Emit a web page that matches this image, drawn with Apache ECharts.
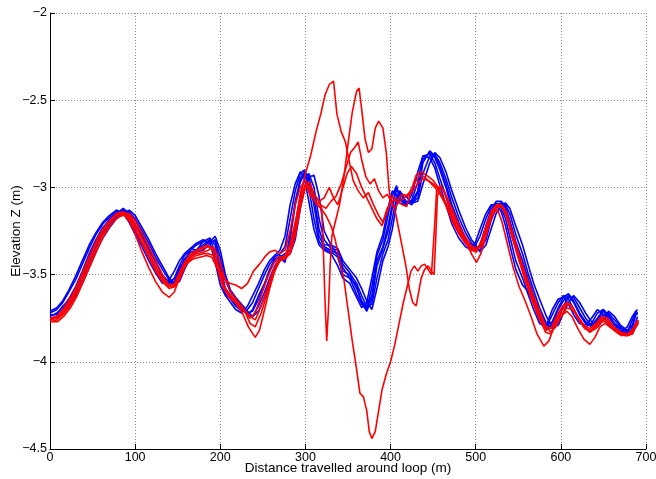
<!DOCTYPE html>
<html>
<head>
<meta charset="utf-8">
<script src="https://cdn.jsdelivr.net/npm/echarts@6/dist/echarts.min.js"></script>
<style>html,body{margin:0;padding:0;background:#fff}#c{width:656px;height:479px}</style>
</head>
<body>
<div id="c"></div>
<script>
// Distance samples (m) shared by the blue runs
const BX = [0,8,15,22,30,38,46,54,62,70,
  78,86,93,100,108,116,124,132,140,146,
  152,158,165,172,180,188,194,200,206,212,
  218,225,232,238,245,252,258,264,270,276,
  282,288,294,299,304,310,316,322,330,338,
  344,352,360,366,372,378,384,391,397,402,
  407,411,418,425,432,438,446,452,458,465,
  472,480,488,495,500,505,512,518,524,530,
  535,540,547,555,562,568,575,583,590,597,
  603,609,615,622,629,636,643,650,656,663,
  670,678,684,688,690];

// Blue runs: elevation Z (m)
const blue1 = [-3.74,-3.72,-3.69,-3.64,-3.57,-3.48,-3.38,-3.30,-3.23,-3.19,
  -3.16,-3.13,-3.16,-3.21,-3.28,-3.35,-3.43,-3.50,-3.55,-3.55,
  -3.48,-3.41,-3.37,-3.36,-3.33,-3.30,-3.33,-3.48,-3.60,-3.63,
  -3.66,-3.70,-3.72,-3.71,-3.64,-3.56,-3.48,-3.42,-3.39,-3.42,
  -3.30,-3.10,-2.97,-2.92,-2.96,-3.10,-3.28,-3.34,-3.36,-3.38,
  -3.48,-3.50,-3.58,-3.65,-3.69,-3.62,-3.42,-3.34,-3.22,-3.10,
  -3.00,-3.06,-3.09,-3.08,-3.02,-2.84,-2.80,-2.83,-2.90,-3.00,
  -3.12,-3.22,-3.30,-3.33,-3.35,-3.34,-3.24,-3.14,-3.10,-3.09,
  -3.12,-3.20,-3.33,-3.44,-3.55,-3.64,-3.74,-3.81,-3.78,-3.70,
  -3.65,-3.62,-3.66,-3.73,-3.78,-3.80,-3.76,-3.71,-3.74,-3.79,
  -3.82,-3.84,-3.80,-3.73,-3.72];
const blue2 = [-3.76,-3.74,-3.71,-3.67,-3.61,-3.52,-3.43,-3.34,-3.26,-3.21,
  -3.17,-3.14,-3.14,-3.18,-3.25,-3.32,-3.40,-3.47,-3.53,-3.56,
  -3.52,-3.45,-3.39,-3.37,-3.36,-3.32,-3.30,-3.40,-3.53,-3.60,
  -3.64,-3.68,-3.73,-3.74,-3.68,-3.60,-3.52,-3.45,-3.40,-3.38,
  -3.36,-3.22,-3.04,-2.95,-2.92,-3.00,-3.18,-3.30,-3.35,-3.36,
  -3.44,-3.49,-3.55,-3.62,-3.68,-3.67,-3.52,-3.38,-3.30,-3.18,
  -3.06,-3.02,-3.08,-3.09,-3.06,-2.92,-2.82,-2.81,-2.86,-2.95,
  -3.06,-3.17,-3.26,-3.32,-3.34,-3.36,-3.30,-3.19,-3.12,-3.09,
  -3.10,-3.15,-3.27,-3.38,-3.50,-3.59,-3.69,-3.78,-3.81,-3.75,
  -3.68,-3.63,-3.63,-3.69,-3.75,-3.79,-3.78,-3.73,-3.72,-3.76,
  -3.80,-3.83,-3.82,-3.77,-3.74];
const blue3 = [-3.72,-3.70,-3.66,-3.60,-3.53,-3.44,-3.35,-3.27,-3.21,-3.17,
  -3.14,-3.14,-3.19,-3.25,-3.32,-3.39,-3.47,-3.53,-3.55,-3.52,
  -3.45,-3.39,-3.36,-3.33,-3.31,-3.29,-3.38,-3.52,-3.61,-3.64,
  -3.68,-3.71,-3.70,-3.66,-3.58,-3.50,-3.44,-3.40,-3.38,-3.34,
  -3.18,-3.02,-2.92,-2.90,-3.00,-3.18,-3.31,-3.35,-3.37,-3.40,
  -3.50,-3.52,-3.61,-3.67,-3.70,-3.57,-3.39,-3.30,-3.16,-3.05,
  -2.99,-3.07,-3.10,-3.07,-2.97,-2.82,-2.81,-2.86,-2.95,-3.05,
  -3.17,-3.26,-3.32,-3.35,-3.33,-3.28,-3.18,-3.11,-3.09,-3.12,
  -3.18,-3.28,-3.42,-3.52,-3.62,-3.70,-3.78,-3.80,-3.73,-3.66,
  -3.62,-3.64,-3.70,-3.76,-3.80,-3.78,-3.72,-3.70,-3.76,-3.81,
  -3.83,-3.83,-3.76,-3.72,-3.73];
const blue4 = [-3.73,-3.73,-3.68,-3.65,-3.58,-3.50,-3.39,-3.31,-3.24,-3.18,
  -3.15,-3.12,-3.15,-3.22,-3.27,-3.36,-3.42,-3.51,-3.54,-3.54,
  -3.46,-3.43,-3.35,-3.36,-3.31,-3.31,-3.31,-3.45,-3.58,-3.62,
  -3.67,-3.69,-3.73,-3.70,-3.62,-3.55,-3.47,-3.41,-3.40,-3.43,
  -3.27,-3.08,-2.95,-2.91,-2.94,-3.06,-3.24,-3.33,-3.33,-3.39,
  -3.46,-3.52,-3.56,-3.66,-3.71,-3.64,-3.45,-3.35,-3.25,-3.12,
  -3.01,-3.04,-3.08,-3.10,-3.03,-2.86,-2.79,-2.82,-2.88,-2.98,
  -3.10,-3.20,-3.29,-3.34,-3.36,-3.33,-3.22,-3.13,-3.08,-3.08,
  -3.11,-3.19,-3.31,-3.42,-3.53,-3.62,-3.72,-3.79,-3.77,-3.69,
  -3.63,-3.61,-3.65,-3.72,-3.77,-3.79,-3.75,-3.70,-3.73,-3.78,
  -3.81,-3.82,-3.79,-3.71,-3.70];
const blue5 = [-3.75,-3.75,-3.72,-3.68,-3.63,-3.55,-3.46,-3.37,-3.29,-3.23,
  -3.18,-3.15,-3.13,-3.16,-3.23,-3.30,-3.38,-3.45,-3.52,-3.55,
  -3.54,-3.47,-3.40,-3.36,-3.34,-3.31,-3.28,-3.36,-3.50,-3.59,
  -3.63,-3.67,-3.71,-3.74,-3.71,-3.63,-3.55,-3.47,-3.42,-3.39,
  -3.38,-3.30,-3.12,-3.00,-2.94,-2.93,-3.05,-3.25,-3.33,-3.35,
  -3.42,-3.47,-3.52,-3.58,-3.65,-3.70,-3.58,-3.42,-3.34,-3.24,
  -3.10,-3.03,-3.05,-3.09,-3.08,-2.98,-2.86,-2.80,-2.83,-2.91,
  -3.02,-3.13,-3.23,-3.30,-3.33,-3.37,-3.33,-3.24,-3.15,-3.10,
  -3.09,-3.12,-3.22,-3.33,-3.45,-3.55,-3.64,-3.74,-3.80,-3.79,
  -3.72,-3.66,-3.62,-3.66,-3.72,-3.77,-3.80,-3.76,-3.71,-3.74,
  -3.79,-3.82,-3.84,-3.80,-3.76];
const blue6 = [-3.71,-3.69,-3.65,-3.59,-3.51,-3.42,-3.33,-3.26,-3.20,-3.16,
  -3.13,-3.15,-3.20,-3.27,-3.34,-3.42,-3.49,-3.55,-3.53,-3.48,
  -3.42,-3.38,-3.35,-3.32,-3.30,-3.32,-3.43,-3.56,-3.62,-3.66,
  -3.70,-3.72,-3.68,-3.62,-3.55,-3.47,-3.42,-3.39,-3.36,-3.28,
  -3.10,-2.98,-2.91,-2.95,-3.08,-3.24,-3.33,-3.36,-3.38,-3.45,
  -3.52,-3.55,-3.63,-3.69,-3.66,-3.52,-3.37,-3.27,-3.12,-3.02,
  -3.04,-3.09,-3.10,-3.04,-2.91,-2.82,-2.83,-2.89,-2.99,-3.10,
  -3.21,-3.29,-3.34,-3.36,-3.31,-3.24,-3.15,-3.10,-3.10,-3.14,
  -3.22,-3.33,-3.47,-3.56,-3.60,-3.66,-3.76,-3.79,-3.70,-3.64,
  -3.63,-3.67,-3.73,-3.78,-3.79,-3.75,-3.70,-3.73,-3.79,-3.82,
  -3.83,-3.80,-3.74,-3.71,-3.72];

// Red runs: [distance (m), elevation Z (m)]
const red1 = [[0,-3.76],[8,-3.75],[15,-3.72],[22,-3.67],[30,-3.60],[38,-3.51],[46,-3.41],[54,-3.32],[62,-3.25],[70,-3.20],
  [78,-3.16],[86,-3.14],[93,-3.16],[100,-3.21],[108,-3.29],[116,-3.37],[124,-3.45],[132,-3.52],[140,-3.56],[146,-3.56],
  [152,-3.50],[158,-3.44],[165,-3.39],[172,-3.37],[180,-3.35],[186,-3.34],[192,-3.36],[198,-3.45],[205,-3.57],[212,-3.63],
  [220,-3.67],[228,-3.71],[235,-3.75],[241,-3.72],[248,-3.62],[255,-3.52],[262,-3.44],[268,-3.40],[275,-3.40],[282,-3.33],
  [288,-3.20],[294,-3.05],[300,-2.92],[306,-2.82],[313,-2.67],[318,-2.58],[323,-2.47],[328,-2.41],[333,-2.39],[337,-2.58],
  [342,-2.68],[347,-2.74],[351,-2.84],[356,-2.96],[362,-3.02],[368,-3.06],[374,-3.03],[380,-3.10],[386,-3.16],[391,-3.20],
  [396,-3.12],[402,-3.08],[408,-3.07],[414,-3.04],[420,-3.05],[426,-3.02],[432,-2.98],[438,-2.95],[444,-2.96],[450,-2.98],
  [456,-3.01],[462,-3.06],[470,-3.14],[478,-3.23],[486,-3.30],[494,-3.35],[500,-3.37],[506,-3.32],[512,-3.24],[518,-3.16],
  [524,-3.12],[530,-3.11],[536,-3.16],[542,-3.27],[550,-3.40],[558,-3.52],[566,-3.63],[574,-3.74],[582,-3.83],[588,-3.84],
  [594,-3.78],[601,-3.71],[607,-3.67],[613,-3.68],[620,-3.75],[627,-3.80],[634,-3.83],[641,-3.80],[648,-3.75],[655,-3.76],
  [662,-3.81],[670,-3.84],[678,-3.85],[684,-3.83],[688,-3.79],[691,-3.77]];
const red2 = [[0,-3.77],[8,-3.76],[15,-3.73],[22,-3.69],[30,-3.62],[38,-3.54],[46,-3.44],[54,-3.35],[62,-3.27],[70,-3.22],
  [78,-3.18],[86,-3.15],[93,-3.15],[100,-3.19],[108,-3.26],[116,-3.34],[124,-3.42],[132,-3.50],[140,-3.56],[146,-3.57],
  [152,-3.53],[158,-3.46],[165,-3.40],[172,-3.38],[180,-3.37],[186,-3.36],[192,-3.34],[198,-3.40],[205,-3.52],[212,-3.60],
  [220,-3.65],[228,-3.70],[235,-3.74],[241,-3.76],[248,-3.68],[255,-3.58],[262,-3.48],[268,-3.42],[275,-3.40],[282,-3.38],
  [288,-3.28],[294,-3.12],[300,-3.00],[305,-2.99],[310,-3.04],[315,-3.07],[319,-3.12],[321,-3.35],[323,-3.65],[325,-3.88],
  [327,-3.70],[329,-3.45],[331,-3.28],[335,-3.20],[340,-3.10],[345,-2.95],[350,-2.75],[355,-2.57],[360,-2.45],[363,-2.43],
  [366,-2.55],[370,-2.72],[374,-2.80],[378,-2.78],[382,-2.66],[386,-2.62],[391,-2.66],[395,-2.80],[398,-3.00],[400,-3.08],
  [405,-3.12],[410,-3.08],[416,-3.06],[422,-3.03],[428,-2.98],[434,-2.93],[440,-2.94],[446,-2.97],[452,-3.00],[458,-3.04],
  [465,-3.10],[472,-3.18],[480,-3.26],[488,-3.32],[495,-3.36],[501,-3.37],[507,-3.30],[513,-3.21],[519,-3.13],[525,-3.10],
  [531,-3.11],[537,-3.18],[543,-3.29],[551,-3.42],[559,-3.55],[567,-3.66],[575,-3.76],[583,-3.82],[589,-3.80],[595,-3.74],
  [602,-3.68],[608,-3.66],[614,-3.69],[621,-3.76],[628,-3.81],[635,-3.82],[642,-3.78],[649,-3.76],[656,-3.78],[663,-3.82],
  [671,-3.85],[679,-3.84],[685,-3.81],[689,-3.77],[691,-3.76]];
const red3 = [[0,-3.75],[8,-3.74],[15,-3.71],[22,-3.66],[30,-3.59],[38,-3.50],[46,-3.40],[54,-3.32],[62,-3.25],[70,-3.20],
  [78,-3.16],[86,-3.15],[93,-3.18],[100,-3.24],[108,-3.32],[116,-3.40],[124,-3.48],[132,-3.54],[140,-3.58],[146,-3.57],
  [152,-3.51],[158,-3.45],[165,-3.41],[172,-3.39],[180,-3.38],[186,-3.38],[192,-3.39],[198,-3.47],[205,-3.58],[212,-3.62],
  [220,-3.66],[228,-3.70],[235,-3.78],[241,-3.80],[248,-3.72],[255,-3.61],[262,-3.50],[268,-3.43],[275,-3.40],[282,-3.36],
  [288,-3.22],[294,-3.06],[300,-2.98],[306,-3.05],[312,-3.08],[318,-3.10],[324,-3.12],[330,-3.08],[336,-3.05],[342,-2.98],
  [348,-2.88],[353,-2.80],[358,-2.77],[362,-2.74],[366,-2.84],[371,-2.94],[376,-2.98],[381,-2.95],[386,-3.02],[391,-3.06],
  [396,-3.04],[401,-3.08],[406,-3.15],[410,-3.25],[414,-3.35],[418,-3.45],[422,-3.58],[426,-3.66],[430,-3.68],[433,-3.60],
  [436,-3.52],[440,-3.47],[444,-3.45],[448,-3.48],[451,-3.50],[453,-3.30],[455,-3.05],[459,-2.99],[464,-3.04],[470,-3.12],
  [478,-3.21],[486,-3.29],[494,-3.34],[500,-3.36],[506,-3.34],[512,-3.26],[518,-3.17],[524,-3.11],[530,-3.10],[536,-3.14],
  [542,-3.24],[550,-3.37],[558,-3.49],[566,-3.60],[574,-3.70],[582,-3.79],[588,-3.83],[594,-3.80],[601,-3.73],[607,-3.69],
  [613,-3.70],[620,-3.74],[627,-3.79],[634,-3.83],[641,-3.81],[648,-3.77],[655,-3.77],[662,-3.80],[670,-3.83],[678,-3.85],
  [684,-3.84],[688,-3.80],[691,-3.78]];
const red4 = [[0,-3.75],[8,-3.74],[15,-3.70],[22,-3.65],[30,-3.58],[38,-3.49],[46,-3.40],[54,-3.31],[62,-3.24],[70,-3.19],
  [78,-3.15],[86,-3.14],[93,-3.17],[100,-3.23],[108,-3.31],[116,-3.39],[124,-3.47],[132,-3.53],[140,-3.57],[146,-3.55],
  [152,-3.49],[158,-3.43],[165,-3.38],[172,-3.36],[180,-3.34],[186,-3.33],[192,-3.37],[198,-3.46],[204,-3.52],[211,-3.55],
  [218,-3.56],[225,-3.58],[232,-3.55],[239,-3.48],[246,-3.44],[252,-3.40],[258,-3.37],[264,-3.36],[270,-3.38],[276,-3.36],
  [282,-3.25],[288,-3.10],[294,-3.00],[300,-2.96],[306,-3.02],[312,-3.09],[318,-3.12],[324,-3.16],[330,-3.22],[335,-3.30],
  [340,-3.42],[345,-3.52],[350,-3.70],[355,-3.88],[360,-4.04],[364,-4.18],[368,-4.20],[372,-4.28],[375,-4.40],[378,-4.44],
  [382,-4.40],[386,-4.28],[390,-4.16],[395,-4.07],[400,-4.00],[405,-3.90],[410,-3.78],[415,-3.66],[420,-3.56],[424,-3.48],
  [428,-3.45],[432,-3.48],[436,-3.45],[440,-3.44],[444,-3.47],[448,-3.50],[450,-3.49],[452,-3.20],[454,-3.02],[458,-2.99],
  [463,-3.02],[470,-3.10],[478,-3.19],[486,-3.27],[494,-3.33],[500,-3.35],[506,-3.33],[512,-3.25],[518,-3.15],[524,-3.10],
  [530,-3.10],[536,-3.15],[542,-3.25],[550,-3.39],[558,-3.51],[566,-3.62],[574,-3.72],[582,-3.80],[588,-3.81],[594,-3.76],
  [601,-3.69],[607,-3.66],[613,-3.68],[620,-3.74],[627,-3.79],[634,-3.81],[641,-3.78],[648,-3.74],[655,-3.75],[662,-3.80],
  [670,-3.83],[678,-3.84],[684,-3.82],[688,-3.78],[691,-3.76]];
const red5 = [[0,-3.77],[9,-3.77],[16,-3.74],[24,-3.69],[32,-3.62],[40,-3.53],[48,-3.44],[56,-3.35],[64,-3.27],[72,-3.21],
  [80,-3.17],[87,-3.16],[94,-3.20],[101,-3.28],[108,-3.37],[116,-3.46],[124,-3.54],[132,-3.60],[140,-3.63],[146,-3.60],
  [152,-3.52],[160,-3.44],[168,-3.41],[176,-3.40],[184,-3.39],[190,-3.40],[196,-3.46],[203,-3.57],[210,-3.63],[218,-3.66],
  [226,-3.72],[233,-3.80],[241,-3.86],[246,-3.82],[252,-3.70],[258,-3.58],[264,-3.48],[270,-3.42],[276,-3.41],[282,-3.38],
  [288,-3.25],[294,-3.08],[300,-2.99],[305,-2.97],[310,-3.04],[316,-3.08],[322,-3.06],[328,-3.00],[333,-3.06],[338,-3.10],
  [343,-3.02],[349,-2.92],[354,-2.88],[360,-2.92],[366,-3.00],[372,-3.06],[378,-3.12],[384,-3.18],[390,-3.22],[396,-3.14],
  [402,-3.05],[408,-3.08],[414,-3.10],[419,-3.11],[424,-3.02],[430,-2.93],[436,-2.91],[442,-2.93],[450,-2.96],[456,-3.00],
  [462,-3.07],[468,-3.14],[474,-3.21],[482,-3.28],[490,-3.33],[496,-3.39],[501,-3.43],[506,-3.38],[512,-3.28],[518,-3.18],
  [522,-3.14],[526,-3.13],[531,-3.20],[537,-3.32],[544,-3.46],[551,-3.57],[558,-3.65],[565,-3.74],[572,-3.84],[580,-3.91],
  [586,-3.88],[592,-3.80],[600,-3.74],[607,-3.71],[613,-3.74],[620,-3.81],[627,-3.87],[634,-3.90],[640,-3.86],[646,-3.80],
  [652,-3.78],[660,-3.81],[668,-3.84],[676,-3.85],[683,-3.84],[688,-3.80],[691,-3.77]];

const xTicks = [0,100,200,300,400,500,600,700];
const yTicks = [-4.5,-4,-3.5,-3,-2.5,-2];

const blueRuns = [blue1, blue2, blue3, blue4, blue5, blue6];
const redRuns = [red1, red2, red3, red4, red5];

const series = [];
blueRuns.forEach(ys => {
  series.push({
    type: 'line', showSymbol: false, silent: true,
    data: BX.map((x, i) => [x, ys[i]]),
    lineStyle: { color: '#0000ff', width: 1.6 }
  });
});
redRuns.forEach(pts => {
  series.push({
    type: 'line', showSymbol: false, silent: true,
    data: pts,
    lineStyle: { color: '#ff0000', width: 1.6 }
  });
});

const font = "'Liberation Sans', Arial, Helvetica, sans-serif";
const fmtMinus = v => String(v).replace('-', '\u2212');

const chart = echarts.init(document.getElementById('c'), null, { renderer: 'canvas' });
chart.setOption({
  animation: false,
  backgroundColor: '#fff',
  grid: { left: 50, right: 10, top: 13, bottom: 30, containLabel: false, outerBoundsMode: 'none' },
  xAxis: {
    type: 'value', min: xTicks[0], max: xTicks[xTicks.length - 1], interval: 100,
    name: 'Distance travelled around loop (m)', nameLocation: 'middle', nameGap: 12,
    nameMoveOverlap: false,
    nameTextStyle: { color: '#000', fontSize: 13.5, fontFamily: font },
    axisLine: { show: true, lineStyle: { color: '#000', width: 1 } },
    axisTick: { show: true, inside: true, length: 5, lineStyle: { color: '#000' } },
    axisLabel: { color: '#000', fontSize: 12.5, fontFamily: font, margin: 2 },
    splitLine: { show: true, lineStyle: { color: '#888', type: [1, 2], width: 1 } }
  },
  yAxis: {
    type: 'value', min: yTicks[0], max: yTicks[yTicks.length - 1], interval: 0.5,
    name: 'Elevation Z (m)', nameLocation: 'middle', nameGap: 27,
    nameMoveOverlap: false,
    nameTextStyle: { color: '#000', fontSize: 13.5, fontFamily: font },
    axisLine: { show: true, lineStyle: { color: '#000', width: 1 } },
    axisTick: { show: true, inside: true, length: 5, lineStyle: { color: '#000' } },
    axisLabel: { color: '#000', fontSize: 12.5, fontFamily: font, margin: 3, formatter: fmtMinus },
    splitLine: { show: true, lineStyle: { color: '#888', type: [1, 2], width: 1 } }
  },
  series: series
});
</script>
</body>
</html>
